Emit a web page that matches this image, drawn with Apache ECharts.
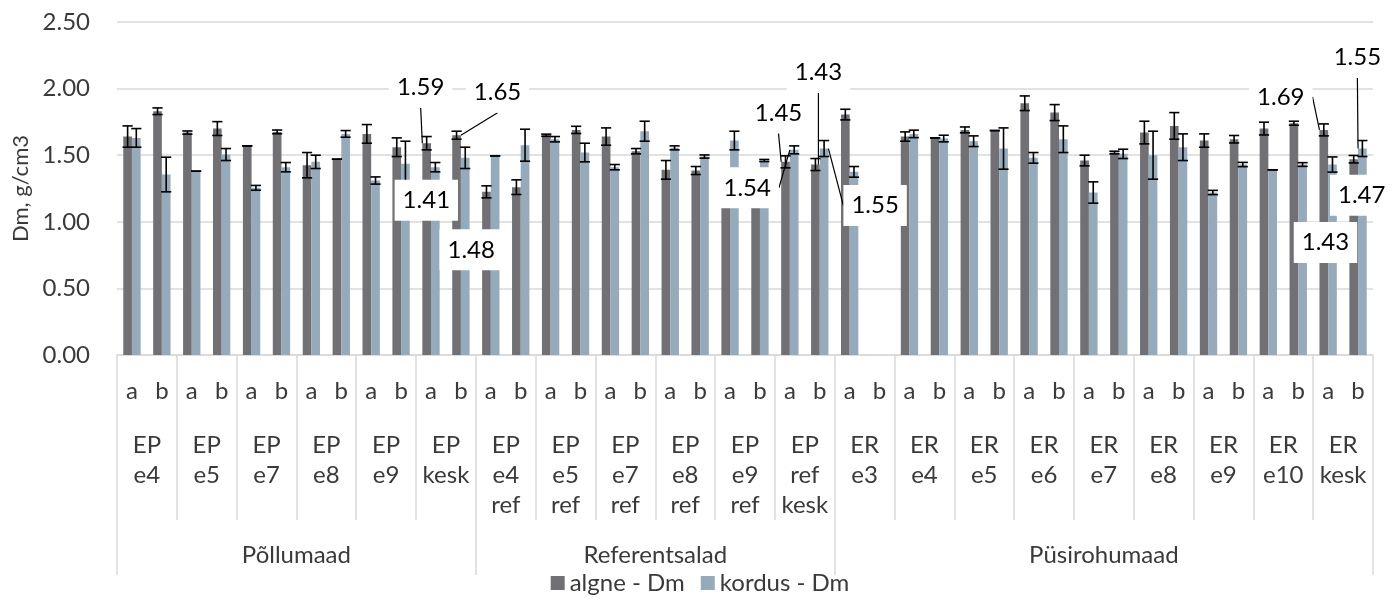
<!DOCTYPE html>
<html>
<head>
<meta charset="utf-8">
<script src="https://cdn.jsdelivr.net/npm/echarts@6/dist/echarts.min.js"></script>
<style>
html,body{margin:0;padding:0;background:#fff;}
#chart{width:1400px;height:600px;}
</style>
</head>
<body>
<div id="chart"></div>
<script>
// ---------- data ----------
const subLabels = ['a', 'b'];
const groupNames = ['EP\ne4','EP\ne5','EP\ne7','EP\ne8','EP\ne9','EP\nkesk',
  'EP\ne4\nref','EP\ne5\nref','EP\ne7\nref','EP\ne8\nref','EP\ne9\nref','EP\nref\nkesk',
  'ER\ne3','ER\ne4','ER\ne5','ER\ne6','ER\ne7','ER\ne8','ER\ne9','ER\ne10','ER\nkesk'];
const regionNames = ['Põllumaad', 'Referentsalad', 'Püsirohumaad'];
const regionGroupCounts = [6, 6, 9];
const yTicks = [0, 0.5, 1.0, 1.5, 2.0, 2.5];

const algne = [1.64,1.83,1.67,1.70,1.57,1.675,1.425,1.47,1.66,1.56,1.59,1.65,
  1.225,1.26,1.65,1.69,1.64,1.53,1.39,1.385,1.30,1.30,1.45,1.43,
  1.805,null,1.64,1.63,1.69,1.685,1.89,1.82,1.46,1.52,1.67,1.72,1.61,1.62,1.70,1.74,1.69,1.47];
const algneErr = [0.08,0.025,0.012,0.052,0,0.014,0.095,0,0.07,0.07,0.05,0.03,
  0.045,0.055,0.008,0.027,0.065,0.02,0.07,0.03,0.03,0.03,0.045,0.045,
  0.04,null,0.035,0,0.022,0,0.055,0.06,0.04,0.01,0.085,0.1,0.05,0.028,0.048,0.015,0.045,0.028];
const kordus = [1.63,1.355,1.38,1.505,1.255,1.41,1.45,1.66,1.31,1.435,1.41,1.48,
  1.495,1.575,1.62,1.52,1.41,1.68,1.555,1.49,1.61,1.46,1.54,1.55,
  1.375,null,1.66,1.625,1.605,1.55,1.48,1.62,1.22,1.51,1.50,1.56,1.22,1.43,1.39,1.43,1.43,1.55];
const kordusErr = [0.07,0.13,0,0.045,0.018,0.035,0.05,0.025,0.027,0.17,0.035,0.08,
  0,0.12,0.02,0.07,0.02,0.075,0.015,0.012,0.07,0.008,0.03,0.06,
  0.04,null,0.028,0.025,0.04,0.155,0.04,0.1,0.08,0.035,0.18,0.1,0.016,0.016,0,0.014,0.057,0.06];
const labelledIdx = [10, 11, 22, 23, 40, 41];

// ---------- layout config (not data) ----------
const labelOffsets = {
  algne:  {10:[-6,-56], 11:[41,-43], 22:[-7,-49], 23:[3,-92], 40:[-43,-33], 41:[8,36]},
  kordus: {10:[-9,33], 11:[6,92], 22:[-47,38], 23:[51,57], 40:[-7,78], 41:[-5,-91]}
};
const noLeader = {algne: [41], kordus: [10, 11, 40]};
const FONT = 'Lato, "Open Sans", sans-serif';
const FS = 24;
const TXT = '#3a3a3a';
const BAR_FRAC = 0.29;

// ---------- build ----------
const categories = [];
groupNames.forEach(() => subLabels.forEach(s => categories.push(s)));
const nCat = categories.length;

const groupTicks = [];
for (let i = 0; i <= groupNames.length; i++) groupTicks.push(i * 2);
const groupLabelPos = groupNames.map((g, i) => i * 2 + 1);
const regionTicks = [0];
const regionLabelPos = [];
let acc = 0;
regionGroupCounts.forEach(c => { regionLabelPos.push(acc + c); acc += c * 2; regionTicks.push(acc); });

function carrier(values, key) {
  return values.map((v, i) => {
    if (labelledIdx.indexOf(i) < 0) return null;
    const item = {value: 0};
    if (noLeader[key].indexOf(i) >= 0) item.labelLine = {show: false};
    return item;
  });
}
function errData(values, errs) {
  return values.map((v, i) => [i, v == null ? 0 : v, errs[i] == null ? 0 : errs[i]]);
}
function errRender(side, values) {
  return function (params, api) {
    if (values[params.dataIndex] == null) return;
    const i = api.value(0), v = api.value(1), e = api.value(2);
    const bw = api.size([1, 0])[0];
    const off = side * bw * BAR_FRAC / 2;
    const t = api.coord([i, v + e]);
    const b = api.coord([i, v - e]);
    const x = t[0] + off;
    const cap = bw * 0.17;
    const st = {stroke: '#000', lineWidth: 1.6};
    return {type: 'group', children: [
      {type: 'line', shape: {x1: x, y1: t[1], x2: x, y2: b[1]}, style: st},
      {type: 'line', shape: {x1: x - cap, y1: t[1], x2: x + cap, y2: t[1]}, style: st},
      {type: 'line', shape: {x1: x - cap, y1: b[1], x2: x + cap, y2: b[1]}, style: st}
    ]};
  };
}
function labelSeries(name, stack, values, key) {
  return {
    name: name, type: 'bar', stack: stack, z: 5, barWidth: (BAR_FRAC * 100) + '%',
    data: carrier(values, key),
    itemStyle: {color: 'rgba(0,0,0,0)'},
    silent: true,
    label: {
      show: true, position: 'inside', color: '#000', fontFamily: FONT, fontSize: FS,
      backgroundColor: '#fff', padding: [7, 8], lineHeight: 27, textBorderWidth: 0,
      formatter: p => values[p.dataIndex].toFixed(2)
    },
    labelLine: {show: true, lineStyle: {color: '#000', width: 1.2}},
    labelLayout: function (p) {
      const o = labelOffsets[key][p.dataIndex];
      return o ? {dx: o[0], dy: o[1]} : {};
    }
  };
}

const chart = echarts.init(document.getElementById('chart'));
chart.setOption({
  animation: false,
  backgroundColor: '#fff',
  textStyle: {fontFamily: FONT},
  grid: {left: 117, right: 27, top: 22, bottom: 245, outerBoundsMode: 'none'},
  legend: {
    bottom: 0, left: 'center', icon: 'rect', itemWidth: 14, itemHeight: 14, itemGap: 16,
    data: ['algne - Dm', 'kordus - Dm'],
    textStyle: {fontFamily: FONT, fontSize: FS, color: TXT}
  },
  xAxis: [
    {
      type: 'category', data: categories, gridIndex: 0,
      axisLine: {show: true, lineStyle: {color: '#d9d9d9', width: 1.5}},
      axisTick: {show: false},
      axisLabel: {interval: 0, fontFamily: FONT, fontSize: FS, color: TXT, margin: 24}
    },
    {
      type: 'value', min: 0, max: nCat, position: 'bottom',
      axisLine: {show: false}, splitLine: {show: false},
      axisTick: {show: true, customValues: groupTicks, length: 165, lineStyle: {color: '#d9d9d9', width: 1.5}},
      axisLabel: {
        customValues: groupLabelPos, fontFamily: FONT, fontSize: FS, color: TXT, lineHeight: 30, margin: 75,
        formatter: v => groupNames[Math.round((v - 1) / 2)]
      }
    },
    {
      type: 'value', min: 0, max: nCat, position: 'bottom',
      axisLine: {show: false}, splitLine: {show: false},
      axisTick: {show: true, customValues: regionTicks, length: 220, lineStyle: {color: '#d9d9d9', width: 1.5}},
      axisLabel: {
        customValues: regionLabelPos, fontFamily: FONT, fontSize: FS, color: TXT, margin: 188,
        formatter: v => regionNames[regionLabelPos.indexOf(Math.round(v))]
      }
    }
  ],
  yAxis: {
    type: 'value', min: yTicks[0], max: yTicks[yTicks.length - 1], interval: 0.5,
    name: 'Dm, g/cm3', nameLocation: 'middle', nameGap: 75,
    nameTextStyle: {fontFamily: FONT, fontSize: 22, color: TXT},
    axisLine: {show: false}, axisTick: {show: false},
    splitLine: {lineStyle: {color: '#d9d9d9', width: 1.5}},
    axisLabel: {fontFamily: FONT, fontSize: FS, color: TXT, margin: 27, formatter: v => v.toFixed(2)}
  },
  series: [
    {name: 'algne - Dm', type: 'bar', stack: 'A', z: 2, data: algne, barWidth: (BAR_FRAC * 100) + '%', barGap: '0%',
      itemStyle: {color: '#707075'}},
    {name: 'kordus - Dm', type: 'bar', stack: 'B', z: 2, data: kordus, barWidth: (BAR_FRAC * 100) + '%', barGap: '0%',
      itemStyle: {color: '#95AABA'}},
    labelSeries('algneLbl', 'A', algne, 'algne'),
    labelSeries('kordusLbl', 'B', kordus, 'kordus'),
    {type: 'custom', z: 3, silent: true, data: errData(algne, algneErr), encode: {x: 0, y: 1},
      renderItem: errRender(-1, algne)},
    {type: 'custom', z: 3, silent: true, data: errData(kordus, kordusErr), encode: {x: 0, y: 1},
      renderItem: errRender(1, kordus)}
  ]
});
</script>
</body>
</html>
